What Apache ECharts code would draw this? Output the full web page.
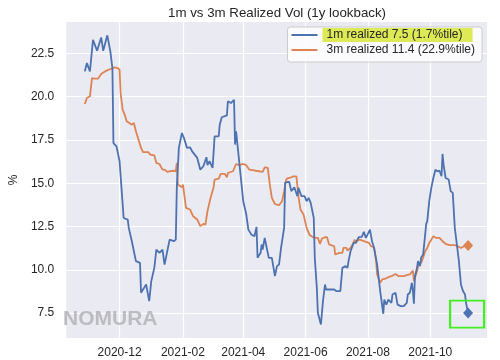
<!DOCTYPE html>
<html><head><meta charset="utf-8">
<script src="https://cdn.jsdelivr.net/npm/echarts@6/dist/echarts.min.js"></script>
<style>html,body{margin:0;padding:0;background:#fff}#c{width:500px;height:360px}</style>
</head><body><div id="c"></div>
<script>
const titleText = '1m vs 3m Realized Vol (1y lookback)';
const name1m = '1m realized 7.5 (1.7%tile)';
const name3m = '3m realized 11.4 (22.9%tile)';
const yTicks = [7.5, 10, 12.5, 15, 17.5, 20, 22.5];
const xTicks = ['2020-12-01','2021-02-01','2021-04-01','2021-06-01','2021-08-01','2021-10-01'];
const xRange = ['2020-10-09T20:00', '2021-11-25T12:00'];
const yRange = [6.06, 24.31];

const dates1m = ['2020-10-28','2020-10-30','2020-11-02','2020-11-05','2020-11-09','2020-11-13','2020-11-15','2020-11-19','2020-11-22','2020-11-23','2020-11-24','2020-11-25','2020-11-28','2020-12-01','2020-12-05','2020-12-09','2020-12-10','2020-12-13','2020-12-15','2020-12-17','2020-12-21','2020-12-22','2020-12-27','2020-12-30','2021-01-01','2021-01-04','2021-01-06','2021-01-09','2021-01-12','2021-01-14','2021-01-16','2021-01-19','2021-01-23','2021-01-25','2021-01-26','2021-01-28','2021-01-31','2021-02-02','2021-02-03','2021-02-05','2021-02-08','2021-02-10','2021-02-15','2021-02-18','2021-02-21','2021-02-24','2021-02-25','2021-02-27','2021-02-28','2021-03-02','2021-03-04','2021-03-08','2021-03-09','2021-03-11','2021-03-16','2021-03-17','2021-03-20','2021-03-23','2021-03-24','2021-03-25','2021-03-28','2021-04-01','2021-04-04','2021-04-06','2021-04-09','2021-04-12','2021-04-14','2021-04-15','2021-04-18','2021-04-19','2021-04-20','2021-04-22','2021-04-24','2021-04-26','2021-04-29','2021-05-02','2021-05-04','2021-05-06','2021-05-08','2021-05-11','2021-05-12','2021-05-14','2021-05-16','2021-05-18','2021-05-19','2021-05-21','2021-05-24','2021-05-25','2021-05-28','2021-05-31','2021-06-02','2021-06-04','2021-06-06','2021-06-09','2021-06-10','2021-06-12','2021-06-13','2021-06-16','2021-06-18','2021-06-20','2021-06-21','2021-06-24','2021-06-29','2021-07-01','2021-07-05','2021-07-07','2021-07-10','2021-07-12','2021-07-13','2021-07-15','2021-07-18','2021-07-20','2021-07-23','2021-07-26','2021-07-28','2021-07-30','2021-08-01','2021-08-03','2021-08-05','2021-08-07','2021-08-10','2021-08-13','2021-08-16','2021-08-17','2021-08-19','2021-08-21','2021-08-24','2021-08-25','2021-08-28','2021-08-30','2021-09-02','2021-09-05','2021-09-08','2021-09-09','2021-09-11','2021-09-13','2021-09-14','2021-09-15','2021-09-16','2021-09-18','2021-09-19','2021-09-21','2021-09-22','2021-09-24','2021-09-26','2021-09-27','2021-09-28','2021-09-30','2021-10-02','2021-10-04','2021-10-06','2021-10-08','2021-10-10','2021-10-12','2021-10-13','2021-10-14','2021-10-16','2021-10-19','2021-10-21','2021-10-23','2021-10-25','2021-10-27','2021-10-29','2021-10-31','2021-11-02','2021-11-04','2021-11-05','2021-11-07'];
const vals1m = [21.46,21.94,21.46,23.28,22.65,23.42,22.65,23.54,22.60,22.57,21.65,17.32,17.13,16.27,12.99,12.90,12.42,11.65,11.07,10.50,10.40,8.67,9.15,8.19,9.34,10.11,11.17,10.98,11.17,10.30,10.88,11.74,11.65,11.74,14.73,17.04,17.90,17.61,17.71,17.04,17.07,16.84,16.46,15.78,15.98,16.50,16.04,16.27,16.30,15.88,17.71,17.71,18.38,18.81,18.92,19.73,19.63,19.82,17.23,18.00,16.27,13.96,13.19,12.32,12.03,11.94,12.48,10.69,10.98,11.46,11.17,11.84,11.26,10.69,10.69,9.63,10.21,10.30,11.26,12.42,15.02,15.07,15.07,14.54,14.44,14.77,14.25,14.73,14.25,14.25,13.96,14.15,13.86,12.99,10.69,8.96,7.52,6.84,8.19,9.15,8.86,8.86,8.86,8.77,8.77,10.11,10.21,10.11,10.50,11.07,11.55,11.55,11.88,11.90,12.19,11.84,12.07,12.32,11.65,11.26,10.30,8.77,7.46,8.28,7.99,8.28,8.09,8.57,8.67,7.99,7.90,7.90,8.09,8.57,8.67,9.25,8.77,8.04,9.63,10.11,10.50,10.21,10.69,10.88,12.03,12.65,12.80,13.96,14.73,15.30,15.78,15.69,15.72,15.40,16.69,16.07,15.30,15.21,14.54,14.44,12.42,11.46,10.50,9.15,8.77,8.57,8.09,7.50];

const dates3m = ['2020-10-28','2020-10-30','2020-11-02','2020-11-04','2020-11-06','2020-11-10','2020-11-13','2020-11-17','2020-11-20','2020-11-23','2020-11-26','2020-11-29','2020-12-01','2020-12-02','2020-12-04','2020-12-06','2020-12-08','2020-12-09','2020-12-13','2020-12-15','2020-12-17','2020-12-20','2020-12-22','2020-12-24','2020-12-29','2020-12-31','2021-01-04','2021-01-06','2021-01-09','2021-01-12','2021-01-14','2021-01-17','2021-01-19','2021-01-23','2021-01-25','2021-01-26','2021-01-27','2021-01-28','2021-01-31','2021-02-01','2021-02-04','2021-02-08','2021-02-11','2021-02-15','2021-02-18','2021-02-21','2021-02-23','2021-02-25','2021-02-28','2021-03-03','2021-03-04','2021-03-08','2021-03-10','2021-03-14','2021-03-16','2021-03-17','2021-03-22','2021-03-25','2021-03-28','2021-04-01','2021-04-04','2021-04-07','2021-04-13','2021-04-17','2021-04-20','2021-04-22','2021-04-25','2021-04-27','2021-04-29','2021-05-02','2021-05-04','2021-05-06','2021-05-09','2021-05-11','2021-05-13','2021-05-15','2021-05-18','2021-05-20','2021-05-23','2021-05-25','2021-05-27','2021-05-30','2021-06-02','2021-06-05','2021-06-10','2021-06-13','2021-06-15','2021-06-17','2021-06-20','2021-06-22','2021-06-24','2021-06-26','2021-06-29','2021-06-30','2021-07-04','2021-07-07','2021-07-08','2021-07-11','2021-07-12','2021-07-15','2021-07-17','2021-07-19','2021-07-20','2021-07-22','2021-07-24','2021-07-28','2021-08-02','2021-08-04','2021-08-07','2021-08-09','2021-08-10','2021-08-13','2021-08-15','2021-08-18','2021-08-21','2021-08-24','2021-08-28','2021-08-31','2021-09-05','2021-09-08','2021-09-11','2021-09-14','2021-09-15','2021-09-18','2021-09-20','2021-09-22','2021-09-24','2021-09-26','2021-09-28','2021-09-30','2021-10-04','2021-10-07','2021-10-10','2021-10-13','2021-10-16','2021-10-20','2021-10-25','2021-10-28','2021-10-31','2021-11-03','2021-11-07'];
const vals3m = [19.57,19.92,20.02,21.07,21.04,21.04,21.31,21.46,21.55,21.61,21.69,21.65,21.55,20.21,19.25,18.96,18.58,18.48,18.38,18.48,18.00,17.42,17.04,16.80,16.80,16.65,16.61,16.17,16.11,15.78,15.78,15.65,15.69,15.72,15.69,16.17,14.92,14.83,14.77,14.92,13.57,13.48,13.09,12.90,12.52,12.65,12.61,13.38,14.15,14.77,15.21,15.26,15.54,15.54,15.34,15.59,15.69,16.11,16.04,16.11,16.04,15.78,15.72,15.69,15.65,15.92,15.88,14.92,14.15,13.80,13.76,13.73,13.96,14.54,15.21,15.30,15.34,15.40,15.40,14.25,13.48,13.19,12.42,12.00,11.84,11.84,11.50,11.80,11.88,11.88,11.46,11.42,11.36,10.88,10.98,10.98,11.26,11.26,11.11,11.26,11.46,11.74,11.55,11.69,11.74,11.65,11.55,11.36,11.30,10.50,9.73,9.25,9.44,9.49,9.57,9.63,9.76,9.63,9.63,9.69,9.73,9.96,9.34,9.92,10.40,10.40,10.69,11.07,11.26,11.55,11.94,11.84,11.84,11.65,11.50,11.42,11.42,11.36,11.26,11.36,11.40];

function ts(s) {
  const [d, t] = s.split('T');
  const [y, m, dd] = d.split('-').map(Number);
  let h = 0, mi = 0;
  if (t) { [h, mi] = t.split(':').map(Number); }
  return Date.UTC(y, m - 1, dd, h, mi);
}
const data1m = dates1m.map((d, i) => [ts(d), vals1m[i]]);
const data3m = dates3m.map((d, i) => [ts(d), vals3m[i]]);
const last1m = data1m[data1m.length - 1];
const last3m = data3m[data3m.length - 1];

const BLUE = '#4C72B0', ORANGE = '#DD8452', TXT = '#262626';
const FONT = '"Liberation Sans", Arial, sans-serif';

const chart = echarts.init(document.getElementById('c'), null, {renderer: 'canvas'});
chart.setOption({
  animation: false,
  backgroundColor: '#ffffff',
  title: {
    text: titleText, left: 163, top: 2,
    textStyle: {fontFamily: FONT, fontSize: 13.3, fontWeight: 'normal', color: TXT}
  },
  legend: {
    data: [name1m, name3m],
    orient: 'vertical', right: 18, top: 27,
    padding: [1, 3, 5, 4], itemGap: 1,
    itemWidth: 26, itemHeight: 2, icon: 'rect',
    backgroundColor: 'rgba(255,255,255,0.8)', borderColor: '#cccccc', borderWidth: 1, borderRadius: 3,
    formatter: function (n) { return n === name1m ? '{hl|' + n + '}' : '{n|' + n + '}'; },
    textStyle: {
      fontFamily: FONT, fontSize: 12, color: TXT,
      rich: {
        hl: {fontFamily: FONT, fontSize: 12, color: TXT, lineHeight: 14, padding: [1, 10, 1, 4], backgroundColor: '#DDE955'},
        n: {fontFamily: FONT, fontSize: 12, color: TXT, lineHeight: 14, padding: [1, 4, 1, 4]}
      }
    }
  },
  grid: {left: 59, right: 13, top: 22, bottom: 22, show: true, backgroundColor: '#EAEAF2', borderWidth: 0, containLabel: false},
  xAxis: {
    type: 'value', min: ts(xRange[0]), max: ts(xRange[1]),
    axisLine: {show: false}, axisTick: {show: false, customValues: xTicks.map(ts)},
    axisLabel: {
      customValues: xTicks.map(ts), margin: 9, fontFamily: FONT, fontSize: 12, color: TXT,
      formatter: function (v) { const d = new Date(v); return d.getUTCFullYear() + '-' + String(d.getUTCMonth() + 1).padStart(2, '0'); }
    },
    splitLine: {show: true, lineStyle: {color: '#ffffff', width: 1.2}}
  },
  yAxis: {
    type: 'value', min: yRange[0], max: yRange[1],
    name: '%', nameLocation: 'middle', nameGap: 46, nameRotate: 90,
    nameTextStyle: {fontFamily: FONT, fontSize: 12, color: TXT},
    axisLine: {show: false}, axisTick: {show: false, customValues: yTicks},
    axisLabel: {customValues: yTicks, margin: 12, fontFamily: FONT, fontSize: 12, color: TXT, formatter: function (v) { return v.toFixed(1); }},
    splitLine: {show: true, lineStyle: {color: '#ffffff', width: 1.2}}
  },
  graphic: [{
    type: 'text', left: 63, top: 309, z: 1, silent: true,
    style: {text: 'NOMURA', fontFamily: FONT, fontWeight: 'bold', fontSize: 21, fill: '#bcbcc0'}
  }],
  series: [
    {name: name1m, type: 'line', data: data1m, showSymbol: false, symbol: 'none', lineStyle: {color: BLUE, width: 1.8}, itemStyle: {color: BLUE}, z: 3},
    {name: name3m, type: 'line', data: data3m, showSymbol: false, symbol: 'none', lineStyle: {color: ORANGE, width: 1.8}, itemStyle: {color: ORANGE}, z: 2},
    {name: 'end1m', type: 'scatter', data: [last1m], symbol: 'diamond', symbolSize: [10, 11], itemStyle: {color: BLUE, opacity: 1}, z: 4},
    {name: 'end3m', type: 'scatter', data: [last3m], symbol: 'diamond', symbolSize: [10, 11], itemStyle: {color: ORANGE, opacity: 1}, z: 4},
    {name: 'box', type: 'scatter', data: [last1m], symbol: 'rect', symbolSize: [34, 27], symbolOffset: [-1, 1],
     itemStyle: {color: 'rgba(0,0,0,0)', borderColor: '#44EE22', borderWidth: 2, opacity: 1}, z: 5}
  ]
});
</script></body></html>
